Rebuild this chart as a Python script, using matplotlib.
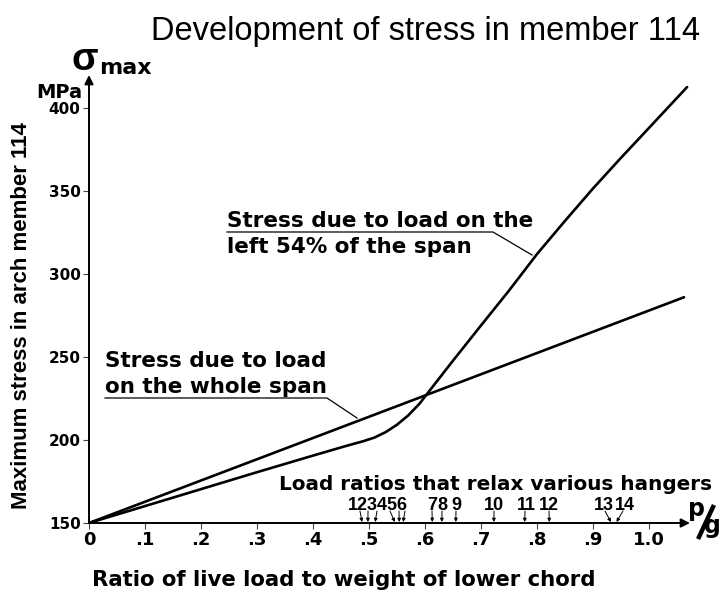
import matplotlib.pyplot as plt

plt.rcParams['font.family'] = ['Liberation Sans', 'DejaVu Sans']
WIDE = ['DejaVu Sans']  # wide bold face, close to the stretched lettering

# stress under load on the whole span (straight line)
ratio_whole = [0.0, 1.0625]
stress_whole = [150, 286]

# stress under load on the left 54% of the span
ratio_left = [0.0, 0.1, 0.2, 0.3, 0.4, 0.46, 0.49, 0.51, 0.53, 0.55, 0.57,
              0.59, 0.61, 0.65, 0.70, 0.75, 0.80, 0.85, 0.90, 0.95, 1.0, 1.068]
stress_left = [150, 160.2, 170.4, 180.6, 190.6, 196.5, 199.3, 201.5, 204.8, 209.2, 214.8,
               221.8, 230.5, 247.8, 269, 290, 312, 332, 351.5, 370, 388, 412.6]

# load ratios that relax the hangers
hanger_ratio = [0.4875, 0.498, 0.511, 0.546, 0.554, 0.561, 0.613, 0.630,
                0.655, 0.723, 0.778, 0.822, 0.932, 0.942]
hanger_groups = ['123456', '7', '8', '9', '10', '11', '12', '13', '14']

xtick_vals = [0, 0.1, 0.2, 0.3, 0.4, 0.5, 0.6, 0.7, 0.8, 0.9, 1.0]
xtick_text = ['0', '.1', '.2', '.3', '.4', '.5', '.6', '.7', '.8', '.9', '1.0']
ytick_vals = [150, 200, 250, 300, 350, 400]


# pixel -> data helpers for placing annotations
def dx(px):
    return (px - 89) / 560


def dy(py):
    return 150 + (523 - py) / 1.66


W, H = 720, 591
fig = plt.figure(figsize=(W / 100, H / 100), dpi=100)
ax = fig.add_axes([89 / W, (H - 523) / H, 601 / W, 448 / H])
ax.set_xlim(0, 601 / 560)
ax.set_ylim(150, dy(75))
for s in ax.spines.values():
    s.set_visible(False)

arrow = dict(arrowstyle='-|>', lw=1.4, color='black', mutation_scale=13,
             shrinkA=0, shrinkB=0)
ax.annotate('', xy=(1, 0), xytext=(0, 0), xycoords='axes fraction', arrowprops=arrow)
ax.annotate('', xy=(0, 1), xytext=(0, 0), xycoords='axes fraction', arrowprops=arrow)

ax.set_xticks(xtick_vals)
ax.set_xticklabels(xtick_text, fontsize=13, fontweight='bold', family=WIDE)
ax.set_yticks(ytick_vals)
ax.set_yticklabels([str(v) for v in ytick_vals], fontsize=11, fontweight='bold', family=WIDE)
ax.tick_params(direction='out', length=4, width=0.8, color='#444', pad=2)

ax.plot(ratio_left, stress_left, color='black', lw=1.9, solid_capstyle='round')
ax.plot(ratio_whole, stress_whole, color='black', lw=1.9, solid_capstyle='round')

# annotation for the left-54% curve
bold = dict(fontsize=15.5, fontweight='bold', va='baseline', family=WIDE)
ax.text(dx(227), dy(227), 'Stress due to load on the', **bold)
ax.text(dx(227), dy(253), 'left 54% of the span', **bold)
ax.plot([dx(227), dx(493), dx(532)], [dy(232), dy(232), dy(255)], color='black', lw=0.9)

# annotation for the whole-span line
ax.text(dx(105), dy(367), 'Stress due to load', **bold)
ax.text(dx(105), dy(393), 'on the whole span', **bold)
ax.plot([dx(105), dx(327), dx(357)], [dy(398), dy(398), dy(418)], color='black', lw=0.9)

# hangers
ax.text(dx(496), dy(490), 'Load ratios that relax various hangers', ha='center',
        fontsize=14.4, fontweight='bold', va='baseline', family=WIDE)
group_px = [378, 432, 442, 456, 494, 526, 549, 604, 625]
for lab, gx in zip(hanger_groups, group_px):
    ax.text(dx(gx), dy(510), lab, ha='center', va='baseline', fontsize=13, fontweight='bold')
arrow_top_px = [360, 368, 377, 390, 399, 405, 432, 442, 456, 494, 525, 549, 605, 623]
small = dict(arrowstyle='-|>', lw=0.7, color='black', mutation_scale=5, shrinkA=0, shrinkB=0)
for hr, tx in zip(hanger_ratio, arrow_top_px):
    ax.annotate('', xy=(hr, 150.6), xytext=(dx(tx), dy(511)), arrowprops=small)

# labels around the axes
fig.text(426 / W, 1 - 40 / H, 'Development of stress in member 114', ha='center',
         va='baseline', fontsize=23.5)
fig.text(85 / W, 1 - 70 / H, 'σ', ha='center', va='baseline', fontsize=28, fontweight='bold')
fig.text(99 / W, 1 - 74 / H, 'max', ha='left', va='baseline', fontsize=16, fontweight='bold',
         family=WIDE)
fig.text(82 / W, 1 - 98 / H, 'MPa', ha='right', va='baseline', fontsize=14, fontweight='bold',
         family=WIDE)
fig.text(22 / W, 1 - 316 / H, 'Maximum stress in arch member 114', rotation=90,
         ha='center', va='center', fontsize=16, fontweight='bold')
fig.text(344 / W, 1 - 586 / H, 'Ratio of live load to weight of lower chord',
         ha='center', va='baseline', fontsize=15.3, fontweight='bold', family=WIDE)

# p/g unit at the end of the x axis, drawn as a stacked fraction
fig.text(697 / W, 1 - 516 / H, 'p', ha='center', va='baseline', fontsize=17, fontweight='bold',
         family=WIDE)
fig.text(712 / W, 1 - 533 / H, 'g', ha='center', va='baseline', fontsize=17, fontweight='bold',
         family=WIDE)
fig.add_artist(plt.Line2D([699 / W, 713 / W], [1 - 537 / H, 1 - 507 / H],
                          transform=fig.transFigure, color='black', lw=3.2))

fig.savefig('out.png', dpi=100)
